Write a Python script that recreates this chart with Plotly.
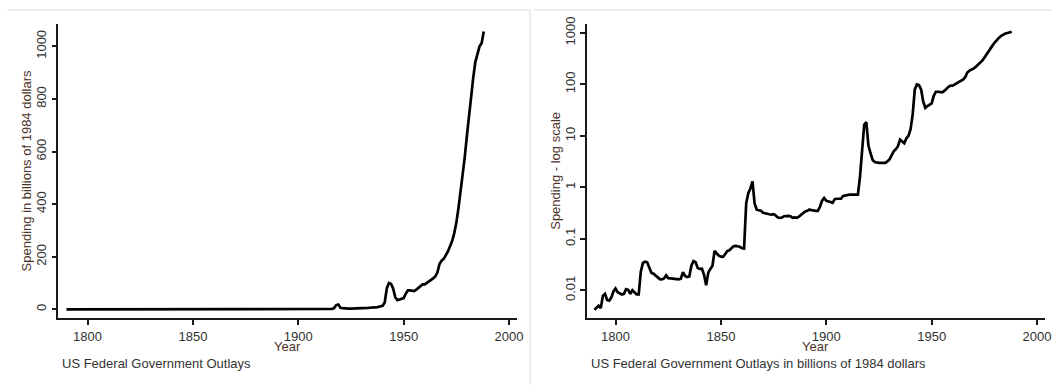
import plotly.graph_objects as go

# US federal government outlays, billions of 1984 dollars, 1790-1988
years = list(range(1790, 1989))
outlays = [
    # 1790s
    0.0042, 0.0045, 0.0050, 0.0045, 0.0078, 0.0085, 0.0065, 0.0063, 0.0072, 0.0095,
    # 1800s
    0.0108, 0.0092, 0.0086, 0.0083, 0.0085, 0.0105, 0.0102, 0.0085, 0.0100, 0.0090,
    # 1810s
    0.0083, 0.0083, 0.0230, 0.0340, 0.0360, 0.0350, 0.0280, 0.0220, 0.0210, 0.0195,
    # 1820s
    0.0175, 0.0165, 0.0163, 0.0170, 0.0195, 0.0172, 0.0170, 0.0168, 0.0167, 0.0165,
    # 1830s
    0.0163, 0.0168, 0.0225, 0.0190, 0.0180, 0.0185, 0.0300, 0.0370, 0.0350, 0.0270,
    # 1840s
    0.0260, 0.0262, 0.0200, 0.0125, 0.0220, 0.0260, 0.0300, 0.0580, 0.0520, 0.0470,
    # 1850s
    0.0450, 0.0445, 0.0500, 0.0580, 0.0600, 0.0660, 0.0720, 0.0730, 0.0720, 0.0700,
    # 1860s
    0.0660, 0.0650, 0.4900, 0.7700, 0.9500, 1.3000, 0.4800, 0.3700, 0.3600, 0.3500,
    # 1870s
    0.3200, 0.3100, 0.3000, 0.3000, 0.2950, 0.3000, 0.2850, 0.2600, 0.2550, 0.2600,
    # 1880s
    0.2750, 0.2800, 0.2800, 0.2750, 0.2550, 0.2600, 0.2550, 0.2700, 0.2900, 0.3100,
    # 1890s
    0.3400, 0.3500, 0.3700, 0.3600, 0.3500, 0.3500, 0.3500, 0.4200, 0.5500, 0.6200,
    # 1900s
    0.5500, 0.5400, 0.5200, 0.5000, 0.5900, 0.6000, 0.6000, 0.6000, 0.6800, 0.7000,
    # 1910s
    0.7100, 0.7200, 0.7200, 0.7200, 0.7200, 0.7200, 1.6, 5.0, 16.5, 18.5,
    # 1920s
    6.5, 4.6, 3.4, 3.1, 3.0, 3.0, 3.0, 3.0, 3.0, 3.2,
    # 1930s
    3.5, 4.2, 5.0, 5.5, 6.3, 8.5, 7.8, 7.2, 9.0, 10.0,
    # 1940s
    13.5, 26.0, 80.0, 100.0, 97.0, 80.0, 46.0, 35.0, 38.0, 40.0,
    # 1950s
    43.0, 60.0, 72.0, 72.0, 70.0, 70.0, 75.0, 83.0, 90.0, 95.0,
    # 1960s
    95.0, 100.0, 106.0, 110.0, 118.0, 125.0, 140.0, 172.0, 185.0, 192.0,
    # 1970s
    205.0, 220.0, 240.0, 260.0, 290.0, 330.0, 385.0, 445.0, 500.0, 580.0,
    # 1980s
    660.0, 740.0, 810.0, 880.0, 940.0, 975.0, 1000.0, 1012.0, 1056.0,
]

year_ticks = [1800, 1850, 1900, 1950, 2000]
linear_ticks = [0, 200, 400, 600, 800, 1000]
log_ticks = [0.01, 0.1, 1, 10, 100, 1000]
log_tick_text = ["0.01", "0.1", "1", "10", "100", "1000"]

W, H = 1057, 385
FONT = "Liberation Sans, Arial, sans-serif"
INK = "#1a1a1a"
TEXT = "#333333"
TITLE = "#4a3428"


def fx(px):
    return px / W


def fy(px):
    return 1 - px / H


axis_style = dict(
    showline=True, linecolor=INK, linewidth=1.5,
    ticks="outside", ticklen=5, tickwidth=1.5, tickcolor=INK,
    showgrid=False, zeroline=False,
    tickfont=dict(family=FONT, size=13, color=TEXT),
)

fig = go.Figure()
line_style = dict(color="black", width=2.7)
fig.add_trace(go.Scatter(x=years, y=outlays, mode="lines", line=line_style,
                         xaxis="x", yaxis="y", showlegend=False))
fig.add_trace(go.Scatter(x=years, y=outlays, mode="lines", line=line_style,
                         xaxis="x2", yaxis="y2", showlegend=False))

plot_top, plot_bottom = 17, 317

fig.update_layout(
    width=W, height=H,
    margin=dict(l=0, r=0, t=0, b=0),
    paper_bgcolor="white", plot_bgcolor="white",
    xaxis=dict(axis_style, domain=[fx(58.6), fx(520)], range=[1786.1, 2003.8],
               tickvals=year_ticks, anchor="y"),
    yaxis=dict(axis_style, domain=[fy(plot_bottom), fy(plot_top)], range=[-33.6, 1086],
               tickvals=linear_ticks, tickangle=-90, anchor="x"),
    xaxis2=dict(axis_style, domain=[fx(590), fx(1051)], range=[1786.3, 2003.8],
                tickvals=year_ticks, anchor="y2"),
    yaxis2=dict(axis_style, type="log", domain=[fy(plot_bottom), fy(plot_top)],
                range=[-2.543, 3.18], tickvals=log_ticks, ticktext=log_tick_text,
                tickangle=-90, anchor="x2"),
)

text_font = dict(family=FONT, size=13, color=TEXT)
title_font = dict(family=FONT, size=13, color=TITLE)
notes = [
    dict(x=fx(27.6), y=fy(167), text="Spending in billions of 1984 dollars",
         textangle=-90, font=title_font, xanchor="center", yanchor="middle"),
    dict(x=fx(559), y=fy(167), text="Spending - log scale",
         textangle=-90, font=title_font, xanchor="center", yanchor="middle"),
    dict(x=fx(289), y=fy(346), text="Year", font=title_font,
         xanchor="center", yanchor="middle"),
    dict(x=fx(820.5), y=fy(346), text="Year", font=title_font,
         xanchor="center", yanchor="middle"),
    dict(x=fx(60), y=fy(363), text="US Federal Government Outlays",
         font=text_font, xanchor="left", yanchor="middle"),
    dict(x=fx(592), y=fy(363),
         text="US Federal Government Outlays in billions of 1984 dollars",
         font=text_font, xanchor="left", yanchor="middle"),
]
fig.update_layout(annotations=[dict(a, xref="paper", yref="paper", showarrow=False)
                               for a in notes])

# light frames around the two graph regions
frame = dict(type="line", xref="paper", yref="paper",
             line=dict(color="#e2eaed", width=1.5))
fig.update_layout(shapes=[
    dict(frame, x0=fx(7), x1=fx(532), y0=fy(3), y1=fy(3)),
    dict(frame, x0=fx(533), x1=fx(533), y0=fy(3), y1=fy(385)),
    dict(frame, x0=fx(537), x1=fx(1057), y0=fy(3), y1=fy(3)),
])

fig.write_html("out.html")
